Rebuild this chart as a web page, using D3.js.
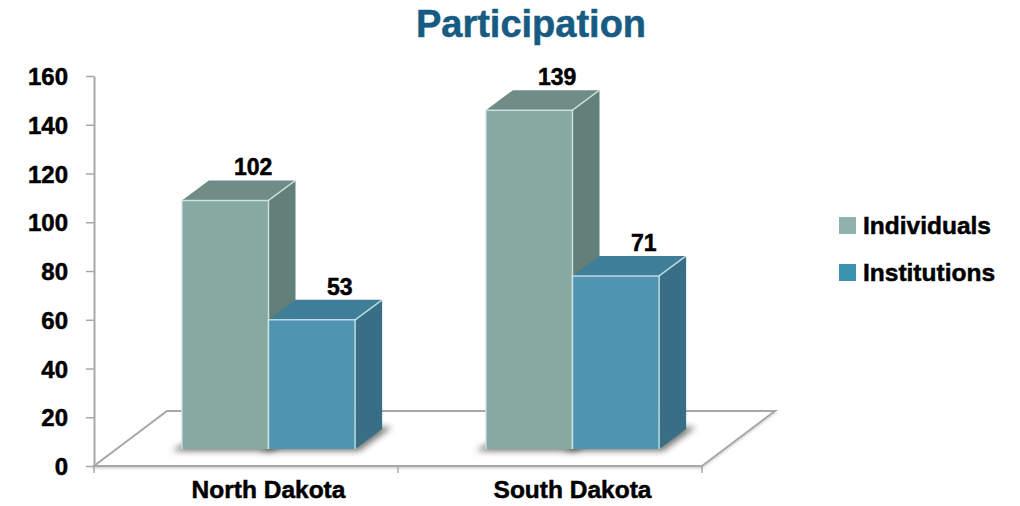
<!DOCTYPE html>
<html>
<head>
<meta charset="utf-8">
<script src="https://cdn.jsdelivr.net/npm/d3@7"></script>
<style>
  html, body { margin: 0; padding: 0; background: #ffffff; }
  svg { display: block; }
  text { font-family: "Liberation Sans", Arial, Helvetica, sans-serif; font-weight: bold; }
  .heavy { stroke: #000; stroke-width: 0.5px; }
</style>
</head>
<body>
<script>
// ---- data ----
const title = "Participation";
const categories = ["North Dakota", "South Dakota"];
const seriesNames = ["Individuals", "Institutions"];
const individuals = [102, 139];
const institutions = [53, 71];
const yTickValues = [0, 20, 40, 60, 80, 100, 120, 140, 160];

const W = 1020, H = 506;
const colors = {
  Individuals: { front: "#86a9a1", side: "#627f78", top: "#6f8d86", legend: "#8fb3ac" },
  Institutions: { front: "#4f95b2", side: "#386f86", top: "#3f7e98", legend: "#3a94ad" }
};

const svg = d3.select("body").append("svg").attr("width", W).attr("height", H);
const defs = svg.append("defs");
defs.append("filter").attr("id", "blur").attr("x", "-50%").attr("y", "-50%").attr("width", "200%").attr("height", "200%")
  .append("feGaussianBlur").attr("stdDeviation", 3);
defs.append("filter").attr("id", "lineShadow")
  .append("feDropShadow").attr("dx", 0).attr("dy", 1.5).attr("stdDeviation", 1).attr("flood-color", "#000").attr("flood-opacity", 0.18);

// ---- scales ----
const y = d3.scaleLinear().domain([0, 160]).range([466, 76]);
const x0 = d3.scaleBand().domain(categories).range([94, 702]).paddingInner(0.43).paddingOuter(0.215);
const x1 = d3.scaleBand().domain(seriesNames).range([0, x0.bandwidth()]);

// 3D geometry
const floorDX = 73, floorDY = -55;   // floor depth
const shiftX = 22.5, shiftY = -17;   // bar front plane within floor
const barDX = 27, barDY = -20;       // bar depth

// ---- title ----
svg.append("text").attr("x", 531).attr("y", 37).attr("text-anchor", "middle")
  .attr("font-size", 38).attr("fill", "#175b83")
  .attr("stroke", "#175b83").attr("stroke-width", 0.5).text(title);

// ---- floor ----
const [fx0, fx1] = x0.range();
const fy = y(0);
const floorPts = [[fx0, fy], [fx1, fy], [fx1 + floorDX, fy + floorDY], [fx0 + floorDX, fy + floorDY]];
svg.append("path")
  .attr("d", d3.line()(floorPts) + "Z")
  .attr("fill", "#ffffff").attr("stroke", "#a8a8a8").attr("stroke-width", 2)
  .attr("filter", "url(#lineShadow)");

// category ticks on front edge
const boundaries = [fx0, (fx0 + fx1) / 2, fx1];
svg.selectAll(".xtick").data(boundaries).join("line")
  .attr("x1", d => d).attr("x2", d => d).attr("y1", fy).attr("y2", fy + 7)
  .attr("stroke", "#a8a8a8").attr("stroke-width", 1.5);

// ---- y axis ----
const yAxisG = svg.append("g").attr("transform", `translate(${fx0},0)`)
  .call(d3.axisLeft(y).tickValues(yTickValues).tickSize(8).tickPadding(18).tickSizeOuter(0));
yAxisG.select(".domain").attr("stroke", "#a8a8a8").attr("stroke-width", 2);
yAxisG.selectAll(".tick line").attr("stroke", "#a8a8a8").attr("stroke-width", 1.5);
yAxisG.selectAll(".tick text")
  .attr("font-size", 24).attr("font-weight", "bold").attr("fill", "#000")
  .attr("class", "heavy")
  .attr("font-family", "'Liberation Sans', Arial, sans-serif").attr("dy", "0.36em");

// ---- bars ----
const rows = [];
categories.forEach((c, i) => {
  rows.push({ cat: c, series: "Individuals", value: individuals[i] });
  rows.push({ cat: c, series: "Institutions", value: institutions[i] });
});

const barsG = svg.append("g");
const baseY = y(0) + shiftY;

// shadows first
rows.forEach(d => {
  const bx = x0(d.cat) + x1(d.series) + shiftX;
  const bw = x1.bandwidth();
  const pts = [[bx - 10, baseY + 2], [bx + bw + 4, baseY + 2], [bx + bw + barDX + 10, baseY + barDY - 2], [bx + barDX, baseY + barDY]];
  barsG.append("path").attr("d", d3.line()(pts) + "Z")
    .attr("fill", "#4a4a4a").attr("opacity", 0.75).attr("filter", "url(#blur)");
});

rows.forEach(d => {
  const c = colors[d.series];
  const bx = x0(d.cat) + x1(d.series) + shiftX;
  const bw = x1.bandwidth();
  const top = y(d.value) + shiftY;
  const g = barsG.append("g");
  // side
  g.append("path").attr("d", d3.line()([[bx + bw, top], [bx + bw + barDX, top + barDY], [bx + bw + barDX, baseY + barDY], [bx + bw, baseY]]) + "Z")
    .attr("fill", c.side);
  // top
  g.append("path").attr("d", d3.line()([[bx, top], [bx + barDX, top + barDY], [bx + bw + barDX, top + barDY], [bx + bw, top]]) + "Z")
    .attr("fill", c.top);
  // front
  g.append("rect").attr("x", bx).attr("y", top).attr("width", bw).attr("height", baseY - top)
    .attr("fill", c.front);
  // highlight edges
  g.append("path").attr("d", d3.line()([[bx, baseY], [bx, top], [bx + bw, top], [bx + bw, baseY]]))
    .attr("fill", "none").attr("stroke", "#d9ecee").attr("stroke-width", 1.5).attr("opacity", 0.8);
  g.append("path").attr("d", d3.line()([[bx + bw, top], [bx + bw + barDX, top + barDY]]))
    .attr("fill", "none").attr("stroke", "#d9ecee").attr("stroke-width", 1.5).attr("opacity", 0.8);
  // value label
  g.append("text")
    .attr("class", "heavy")
    .attr("x", bx + bw / 2 + barDX + 1)
    .attr("y", top + barDY - 5)
    .attr("text-anchor", "middle").attr("font-size", 23).attr("fill", "#000")
    .text(d.value);
});

// ---- category labels ----
svg.selectAll(".cat").data(categories).join("text")
  .attr("class", "heavy")
  .attr("x", d => x0(d) + x0.bandwidth() / 2 + shiftX)
  .attr("y", 498).attr("text-anchor", "middle")
  .attr("font-size", 24.5).attr("fill", "#000")
  .text(d => d);

// ---- legend ----
const legend = svg.append("g").attr("transform", "translate(839,217)");
seriesNames.forEach((s, i) => {
  const g = legend.append("g").attr("transform", `translate(0,${i * 47})`);
  g.append("rect").attr("width", 17).attr("height", 17).attr("fill", colors[s].legend);
  g.append("text").attr("class", "heavy").attr("x", 24).attr("y", 16.5).attr("font-size", 24.5).attr("fill", "#000").text(s);
});
</script>
</body>
</html>
